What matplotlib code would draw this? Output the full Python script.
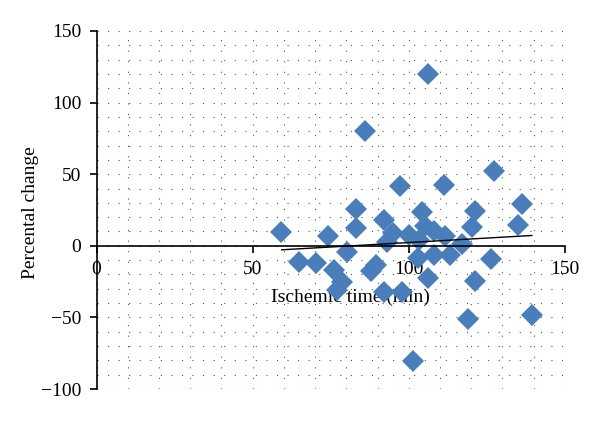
import matplotlib
matplotlib.use('Agg')
import matplotlib.pyplot as plt
from matplotlib.ticker import MultipleLocator

# ischemic time (min) and percental change
ischemic_time = [59.1, 64.9, 70.2, 74.0, 76.0, 77.0, 78.5, 80.1, 83.1, 83.1,
                 86.1, 88.0, 89.5, 92.1, 92.0, 92.9, 95.0, 97.2, 97.9, 100.0,
                 101.2, 103.3, 103.0, 104.2, 105.2, 106.3, 106.2, 108.2, 108.2, 111.2,
                 111.6, 113.2, 117.1, 119.1, 120.1, 121.1, 121.3, 126.2, 127.2, 135.1,
                 136.3, 139.4]
percental_change = [9.3, -11.6, -12.1, 6.5, -17.0, -31.0, -25.0, -4.5, 25.8, 12.1,
                    80.2, -17.5, -13.5, 17.8, -32.5, 2.5, 8.6, 42.0, -32.3, 7.7,
                    -80.7, 4.3, -8.8, 23.7, 13.5, 120.0, -22.5, 10.0, -6.3, 42.3,
                    6.7, -6.5, 1.3, -51.1, 12.9, 24.2, -24.7, -9.2, 52.1, 14.5,
                    29.2, -48.3]

# linear trendline end points
trend_x = [59.3, 139.4]
trend_y = [-2.8, 7.2]

xticks = [0, 50, 100, 150]
yticks = [-100, -50, 0, 50, 100, 150]

plt.rcParams['font.family'] = ['Liberation Serif', 'DejaVu Serif']

fig = plt.figure(figsize=(6, 4.21), dpi=100)
ax = fig.add_axes([0.161, 0.076, 0.7805, 0.8504])

ax.plot(ischemic_time, percental_change, linestyle='none', marker='D',
        markersize=11, color='#4a7ebb', markeredgewidth=0, zorder=3)
ax.plot(trend_x, trend_y, color='black', linewidth=1.0, zorder=4)

ax.set_xlim(0, 150)
ax.set_ylim(-100, 150)
ax.set_xticks(xticks)
ax.set_yticks(yticks)
ax.xaxis.set_minor_locator(MultipleLocator(10))
ax.yaxis.set_minor_locator(MultipleLocator(10))
ax.grid(which='both', color='#555555', linestyle=(0, (1, 8.5)), linewidth=0.8, zorder=0)

for s in ['top', 'right']:
    ax.spines[s].set_visible(False)
ax.spines['bottom'].set_position(('data', 0))
for s in ['left', 'bottom']:
    ax.spines[s].set_linewidth(1.2)
    ax.spines[s].set_zorder(5)

ax.tick_params(which='major', direction='out', length=5, width=1.2, labelsize=14, pad=6)
ax.tick_params(axis='x', which='major', pad=6)
ax.tick_params(which='minor', length=0)

ax.set_xlabel('Ischemic time (min)', fontsize=14)
ax.xaxis.set_label_coords(0.541, 0.257)
ax.xaxis.label.set_verticalalignment('center')
ax.set_ylabel('Percental change', fontsize=14)
ax.yaxis.set_label_coords(-0.142, 0.494)
ax.yaxis.label.set_verticalalignment('center')

fig.savefig('out.png', dpi=100)
